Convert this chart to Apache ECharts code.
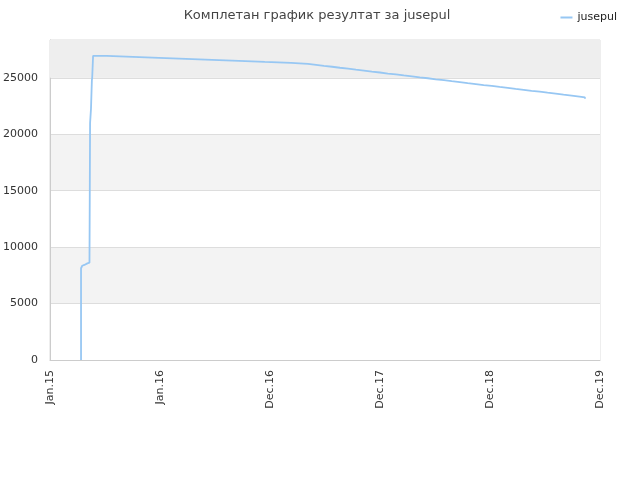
<!DOCTYPE html>
<html><head><meta charset="utf-8">
<script src="https://cdn.jsdelivr.net/npm/echarts@6/dist/echarts.min.js"></script>
<style>html,body{margin:0;padding:0;background:#fff}#c{width:640px;height:480px}</style>
</head><body><div id="c"></div>
<script>
// x values are days since 2015-01-01
const xTickDays = [0, 365, 730, 1095, 1460, 1825];
const xTickLabels = ['Jan.15', 'Jan.16', 'Dec.16', 'Dec.17', 'Dec.18', 'Dec.19'];
const seriesName = 'jusepul';
const days = [103, 103, 104, 107, 110, 114, 118, 124, 131, 133, 134, 136, 139, 140, 143,
  189, 275, 362, 451, 538, 627, 713, 800,
  856, 883, 909, 936, 962, 989, 1015, 1042, 1068, 1095, 1121, 1148, 1174, 1201, 1227, 1254,
  1280, 1307, 1333, 1360, 1386, 1413, 1439, 1466, 1492, 1519, 1545, 1572, 1598, 1625, 1651,
  1678, 1704, 1731, 1757, 1775];
const scores = [0, 8130, 8220, 8350, 8420, 8500, 8560, 8620, 8680, 21000, 21100, 22250, 24800, 25000, 26950,
  26860, 26770, 26680, 26590, 26500, 26410, 26330, 26240,
  26150, 26060, 25980, 25890, 25810, 25720, 25640, 25550, 25470, 25380, 25300, 25210, 25130, 25040, 24960, 24870,
  24790, 24700, 24620, 24530, 24450, 24360, 24280, 24190, 24110, 24020, 23940, 23850, 23770, 23680, 23600,
  23510, 23430, 23340, 23260, 23150];

const data = days.map((d, i) => [d, scores[i]]);
const chart = echarts.init(document.getElementById('c'));
chart.setOption({
  animation: false,
  textStyle: { fontFamily: 'DejaVu Sans' },
  title: {
    text: 'Комплетан график резултат за ' + seriesName,
    left: 312, top: 4, textAlign: 'center',
    textStyle: { fontSize: 13, fontWeight: 'normal', color: '#444', fontFamily: 'DejaVu Sans' }
  },
  legend: {
    right: 18, top: 7, itemWidth: 12, itemHeight: 2, itemGap: 6,
    icon: 'rect',
    textStyle: { fontSize: 11, color: '#222', fontFamily: 'DejaVu Sans' },
    data: [seriesName]
  },
  grid: { left: 50, right: 40, top: 40, bottom: 120, outerBoundsMode: 'none', containLabel: false,
    show: true, borderColor: '#dddddd', borderWidth: 1 },
  xAxis: {
    type: 'value', min: 0, max: 1825, interval: 365,
    axisLine: { show: true, lineStyle: { color: '#cccccc' } },
    axisTick: { show: false },
    splitLine: { show: false },
    axisLabel: {
      rotate: 90, fontSize: 11, color: '#333', margin: 10,
      formatter: v => { const i = xTickDays.indexOf(v); return i >= 0 ? xTickLabels[i] : ''; }
    }
  },
  yAxis: {
    type: 'value', min: 0, max: 28350, interval: 5000,
    axisLine: { show: true, lineStyle: { color: '#cccccc' } },
    axisTick: { show: false },
    splitLine: { show: true, lineStyle: { color: '#dddddd' } },
    splitArea: { show: true, areaStyle: { color: ['#ffffff', '#f3f3f3'] } },
    axisLabel: { fontSize: 11, color: '#333', margin: 12, showMaxLabel: false, formatter: v => String(v) }
  },
  series: [{
    name: seriesName, type: 'line', step: 'end', data: data,
    showSymbol: false, symbol: 'none',
    lineStyle: { color: '#97c7f3', width: 1.8 },
    itemStyle: { color: '#97c7f3' },
    markArea: {
      silent: true,
      itemStyle: { color: '#eeeeee' },
      data: [[{ yAxis: 25000 }, { yAxis: 28350 }]]
    }
  }]
});
</script></body></html>
